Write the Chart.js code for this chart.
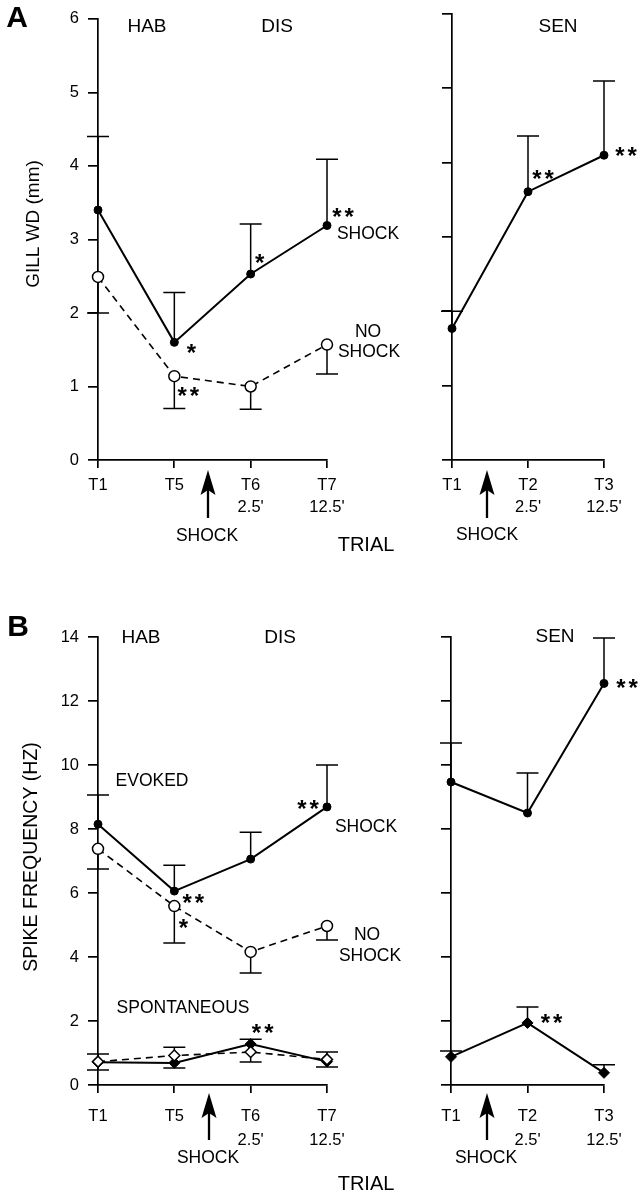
<!DOCTYPE html>
<html>
<head>
<meta charset="utf-8">
<script src="https://cdn.jsdelivr.net/npm/chart.js@4.4.1/dist/chart.umd.min.js"></script>
<style>
  body { margin: 0; background: #fff; }
  #fig { position: relative; width: 642px; height: 1199px; }
  canvas { position: absolute; }
</style>
</head>
<body>
<div id="fig">
  <canvas id="aLeft" width="420" height="580" style="left:0;top:0"></canvas>
  <canvas id="aRight" width="222" height="580" style="left:420px;top:0"></canvas>
  <canvas id="bLeft" width="420" height="619" style="left:0;top:580px"></canvas>
  <canvas id="bRight" width="222" height="619" style="left:420px;top:580px"></canvas>
</div>
<script>
// eixo x (tentativas)
const trialsDis = [["T1"], ["T5"], ["T6", "2.5'"], ["T7", "12.5'"]];
const trialsSen = [["T1"], ["T2", "2.5'"], ["T3", "12.5'"]];

// A: gill withdrawal (mm) - valor medio e ponta da barra de erro
const gillShock = [3.4, 1.6, 2.53, 3.19];
const gillShockBar = [4.4, 2.28, 3.21, 4.09];
const gillNoShock = [2.49, 1.14, 1.0, 1.57];
const gillNoShockBar = [2.0, 0.7, 0.69, 1.17];
const gillSen = [1.77, 3.61, 4.1];
const gillSenBar = [2.0, 4.36, 5.1];
const gillTicks = [0, 1, 2, 3, 4, 5, 6];

// B: spike frequency (Hz)
const evokedShock = [8.15, 6.06, 7.06, 8.69];
const evokedShockBar = [9.06, 6.87, 7.9, 10.0];
const evokedNoShock = [7.38, 5.59, 4.16, 4.97];
const evokedNoShockBar = [6.75, 4.44, 3.5, 4.53];
const spontShock = [0.71, 0.69, 1.28, 0.73];
const spontShockBar = [0.47, 0.53, 1.43, 0.56];
const spontNoShock = [0.73, 0.92, 1.03, 0.8];
const spontNoShockBar = [0.97, 1.18, 0.72, 1.03];
const evokedSen = [9.47, 8.5, 12.55];
const evokedSenBar = [10.69, 9.75, 13.97];
const spontSen = [0.88, 1.94, 0.38];
const spontSenBar = [1.06, 2.44, 0.63];
const spikeTicks = [0, 2, 4, 6, 8, 10, 12, 14];

const FONT = "'Liberation Sans', Arial, Helvetica, sans-serif";
const INK = '#000';
Chart.defaults.font.family = FONT;
Chart.defaults.color = INK;

// textos, asteriscos e setas (coordenadas da pagina)
const annotations = {
  aLeft: {
    texts: [
      { t: 'A', x: 17, y: 19, size: 30, bold: true },
      { t: 'HAB', x: 147, y: 27, size: 19 },
      { t: 'DIS', x: 277, y: 27, size: 19 },
      { t: 'SHOCK', x: 368, y: 234, size: 17.5 },
      { t: 'NO', x: 368, y: 332, size: 17.5 },
      { t: 'SHOCK', x: 369, y: 352, size: 17.5 },
      { t: 'SHOCK', x: 207, y: 536, size: 17.5 },
      { t: 'TRIAL', x: 366, y: 545, size: 20 },
      { t: 'GILL WD (mm)', x: 34, y: 224, size: 19, rotate: true }
    ],
    stars: [
      { ds: 0, i: 1, dx: 17, dy: 5, t: '*' },
      { ds: 1, i: 1, dx: 14, dy: 14, t: '**' },
      { ds: 0, i: 2, dx: 9, dy: -17, t: '*' },
      { ds: 0, i: 3, dx: 16, dy: -14, t: '**' }
    ],
    arrows: [{ x: 208, tip: 470, bottom: 518 }]
  },
  aRight: {
    texts: [
      { t: 'SEN', x: 558, y: 27, size: 19 },
      { t: 'SHOCK', x: 487, y: 535, size: 17.5 }
    ],
    stars: [
      { ds: 0, i: 1, dx: 15, dy: -18, t: '**' },
      { ds: 0, i: 2, dx: 22, dy: -5, t: '**' }
    ],
    arrows: [{ x: 487, tip: 470, bottom: 518 }]
  },
  bLeft: {
    texts: [
      { t: 'B', x: 18, y: 628, size: 30, bold: true },
      { t: 'HAB', x: 141, y: 638, size: 19 },
      { t: 'DIS', x: 280, y: 638, size: 19 },
      { t: 'EVOKED', x: 152, y: 781, size: 17.5 },
      { t: 'SHOCK', x: 366, y: 827, size: 17.5 },
      { t: 'NO', x: 367, y: 935, size: 17.5 },
      { t: 'SHOCK', x: 370, y: 956, size: 17.5 },
      { t: 'SPONTANEOUS', x: 183, y: 1008, size: 17.5 },
      { t: 'SHOCK', x: 208, y: 1158, size: 17.5 },
      { t: 'TRIAL', x: 366, y: 1184, size: 20 },
      { t: 'SPIKE FREQUENCY (HZ)', x: 32, y: 857, size: 19.5, rotate: true }
    ],
    stars: [
      { ds: 0, i: 1, dx: 19, dy: 6, t: '**' },
      { ds: 1, i: 1, dx: 9, dy: 16, t: '*' },
      { ds: 0, i: 3, dx: -19, dy: -3, t: '**' },
      { ds: 2, i: 2, dx: 12, dy: -17, t: '**' }
    ],
    arrows: [{ x: 209, tip: 1093, bottom: 1140 }]
  },
  bRight: {
    texts: [
      { t: 'SEN', x: 555, y: 637, size: 19 },
      { t: 'SHOCK', x: 486, y: 1158, size: 17.5 }
    ],
    stars: [
      { ds: 0, i: 2, dx: 23, dy: -1, t: '**' },
      { ds: 1, i: 1, dx: 24, dy: -5, t: '**' }
    ],
    arrows: [{ x: 487, tip: 1093, bottom: 1140 }]
  }
};

const extras = {
  id: 'extras',
  beforeDatasetsDraw(chart) {
    const ctx = chart.ctx;
    const y = chart.scales.y;
    ctx.save();
    ctx.strokeStyle = INK;
    ctx.lineWidth = 1.5;
    chart.data.datasets.forEach((ds, i) => {
      if (!ds.barEnd) return;
      chart.getDatasetMeta(i).data.forEach((pt, j) => {
        const yEnd = y.getPixelForValue(ds.barEnd[j]);
        ctx.beginPath();
        ctx.moveTo(pt.x, pt.y);
        ctx.lineTo(pt.x, yEnd);
        ctx.moveTo(pt.x - 11, yEnd);
        ctx.lineTo(pt.x + 11, yEnd);
        ctx.stroke();
      });
    });
    ctx.restore();
  },
  afterDraw(chart) {
    const a = annotations[chart.canvas.id];
    const ctx = chart.ctx;
    const ox = chart.canvas.offsetLeft;
    const oy = chart.canvas.offsetTop;
    ctx.save();
    ctx.fillStyle = INK;
    ctx.strokeStyle = INK;
    ctx.textAlign = 'center';

    a.texts.forEach(t => {
      ctx.font = (t.bold ? 'bold ' : '') + t.size + 'px ' + FONT;
      ctx.textBaseline = 'middle';
      if (t.rotate) {
        ctx.save();
        ctx.translate(t.x - ox, t.y - oy);
        ctx.rotate(-Math.PI / 2);
        ctx.fillText(t.t, 0, 0);
        ctx.restore();
      } else {
        ctx.fillText(t.t, t.x - ox, t.y - oy);
      }
    });

    // asteriscos presos aos pontos
    ctx.font = 'bold 24px ' + FONT;
    ctx.textBaseline = 'alphabetic';
    ctx.letterSpacing = '3px';
    a.stars.forEach(s => {
      const pt = chart.getDatasetMeta(s.ds).data[s.i];
      ctx.fillText(s.t, pt.x + s.dx + 1.5, pt.y + s.dy + 13.5);
    });
    ctx.letterSpacing = '0px';

    a.arrows.forEach(ar => {
      const x = ar.x - ox, tip = ar.tip - oy, bottom = ar.bottom - oy;
      ctx.lineWidth = 2.3;
      ctx.beginPath();
      ctx.moveTo(x, tip + 15);
      ctx.lineTo(x, bottom);
      ctx.stroke();
      ctx.beginPath();
      ctx.moveTo(x, tip);
      ctx.lineTo(x + 7.5, tip + 25);
      ctx.lineTo(x, tip + 20);
      ctx.lineTo(x - 7.5, tip + 25);
      ctx.closePath();
      ctx.fill();
    });
    ctx.restore();
  }
};

function shockSet(data, bar, style) {
  return {
    data: data, barEnd: bar, order: 1, clip: false,
    borderColor: INK, borderWidth: 2, tension: 0,
    pointStyle: style, pointRadius: style === 'circle' ? 4 : 5.5,
    pointBackgroundColor: INK, pointBorderColor: INK, pointBorderWidth: 1
  };
}

function noShockSet(data, bar, style) {
  return {
    data: data, barEnd: bar, order: 0, clip: false,
    borderColor: INK, borderWidth: 1.6, borderDash: [7, 5], tension: 0,
    pointStyle: style, pointRadius: 5.5,
    pointBackgroundColor: '#fff', pointBorderColor: INK, pointBorderWidth: 1.5
  };
}

function makePanel(id, p) {
  return new Chart(document.getElementById(id), {
    type: 'line',
    data: { labels: p.labels, datasets: p.datasets },
    options: {
      responsive: false,
      animation: false,
      devicePixelRatio: 1,
      layout: { padding: p.pad },
      plugins: { legend: { display: false }, tooltip: { enabled: false } },
      scales: {
        x: {
          type: 'category',
          offset: false,
          grid: { drawOnChartArea: false, drawTicks: true, tickLength: 8, color: INK, lineWidth: 1.7 },
          border: { color: INK, width: 1.7 },
          ticks: { padding: p.xPad, maxRotation: 0, autoSkip: false, color: INK,
                   font: { size: 16.5, lineHeight: p.xLine } },
          afterFit: s => { s.height = p.xHeight; }
        },
        y: {
          min: 0,
          max: p.yTicks[p.yTicks.length - 1],
          afterBuildTicks: s => { s.ticks = p.yTicks.map(v => ({ value: v })); },
          grid: { drawOnChartArea: false, drawTicks: true, tickLength: 10, color: INK, lineWidth: 1.7 },
          border: { color: INK, width: 1.7 },
          ticks: { display: p.yLabels, padding: 9, color: INK, font: { size: 16.5 } },
          afterFit: s => { s.width = p.yWidth; }
        }
      }
    },
    plugins: [extras]
  });
}

makePanel('aLeft', {
  labels: trialsDis,
  datasets: [shockSet(gillShock, gillShockBar, 'circle'), noShockSet(gillNoShock, gillNoShockBar, 'circle')],
  yTicks: gillTicks, yLabels: true, yWidth: 98, xHeight: 120, xPad: 7, xLine: 1.31,
  pad: { left: 0, top: 14, right: 93, bottom: 0 }
});

makePanel('aRight', {
  labels: trialsSen,
  datasets: [shockSet(gillSen, gillSenBar, 'circle')],
  yTicks: gillTicks, yLabels: false, yWidth: 32, xHeight: 120, xPad: 7, xLine: 1.31,
  pad: { left: 0, top: 14, right: 38, bottom: 0 }
});

makePanel('bLeft', {
  labels: trialsDis,
  datasets: [
    shockSet(evokedShock, evokedShockBar, 'circle'),
    noShockSet(evokedNoShock, evokedNoShockBar, 'circle'),
    shockSet(spontShock, spontShockBar, 'rectRot'),
    noShockSet(spontNoShock, spontNoShockBar, 'rectRot')
  ],
  yTicks: spikeTicks, yLabels: true, yWidth: 98, xHeight: 114, xPad: 11, xLine: 1.455,
  pad: { left: 0, top: 57, right: 93, bottom: 0 }
});

makePanel('bRight', {
  labels: trialsSen,
  datasets: [shockSet(evokedSen, evokedSenBar, 'circle'), shockSet(spontSen, spontSenBar, 'rectRot')],
  yTicks: spikeTicks, yLabels: false, yWidth: 31, xHeight: 114, xPad: 11, xLine: 1.455,
  pad: { left: 0, top: 57, right: 38, bottom: 0 }
});
</script>
</body>
</html>
